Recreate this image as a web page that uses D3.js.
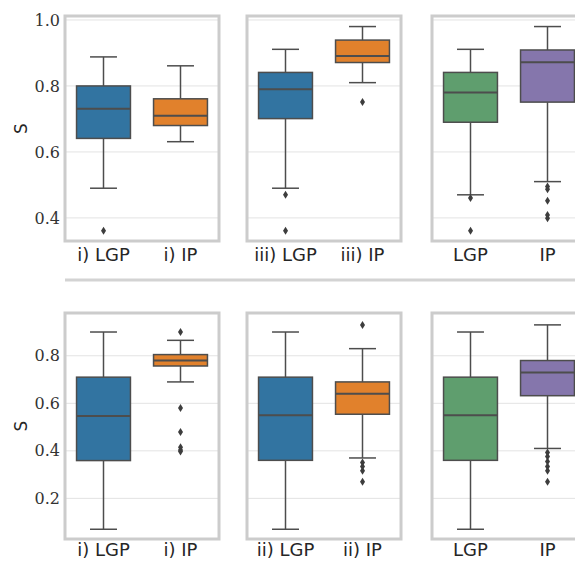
<!DOCTYPE html>
<html>
<head>
<meta charset="utf-8">
<script src="https://cdn.jsdelivr.net/npm/d3@7"></script>
<style>
  body { margin: 0; background: #fff; }
  svg { display: block; }
</style>
</head>
<body>
<div id="chart"></div>
<script>
// box stats per box: [lower whisker, q1, median, q3, upper whisker]
const topLabels = ["i) LGP", "i) IP", "iii) LGP", "iii) IP", "LGP", "IP"];
const topBoxes = [
    [0.49, 0.641, 0.731, 0.80, 0.888],
    [0.631, 0.68, 0.71, 0.761, 0.861],
    [0.49, 0.701, 0.79, 0.841, 0.911],
    [0.81, 0.871, 0.891, 0.939, 0.98],
    [0.47, 0.69, 0.78, 0.841, 0.911],
    [0.51, 0.751, 0.872, 0.909, 0.98]
];
const topOutliers = [
    [0.361],
    [],
    [0.47, 0.361],
    [0.751],
    [0.46, 0.361],
    [0.495, 0.487, 0.452, 0.409, 0.399]
];
const topTicks = [0.4, 0.6, 0.8, 1.0];

const bottomLabels = ["i) LGP", "i) IP", "ii) LGP", "ii) IP", "LGP", "IP"];
const bottomBoxes = [
    [0.07, 0.359, 0.547, 0.71, 0.90],
    [0.69, 0.757, 0.78, 0.805, 0.865],
    [0.07, 0.36, 0.55, 0.71, 0.90],
    [0.37, 0.554, 0.64, 0.69, 0.83],
    [0.07, 0.36, 0.55, 0.71, 0.90],
    [0.41, 0.632, 0.73, 0.78, 0.93]
];
const bottomOutliers = [
    [],
    [0.90, 0.58, 0.479, 0.415, 0.404, 0.397],
    [],
    [0.93, 0.351, 0.334, 0.316, 0.27],
    [],
    [0.393, 0.376, 0.355, 0.334, 0.316, 0.27]
];
const bottomTicks = [0.2, 0.4, 0.6, 0.8];

const boxColors = ["#3274a1", "#e1812c", "#3274a1", "#e1812c", "#5f9e6e", "#8576ac"];

const width = 575;
const height = 561;
const colLefts = [65, 247, 432];
const panelWidth = 154;
const edgeColor = "#4d4d4d";

const rows = [
    { top: 16, bottom: 241, domain: [0.33, 1.012], ticks: topTicks,
      labels: topLabels, boxes: topBoxes, outliers: topOutliers },
    { top: 313, bottom: 539, domain: [0.029, 0.98], ticks: bottomTicks,
      labels: bottomLabels, boxes: bottomBoxes, outliers: bottomOutliers }
];

const svg = d3.select("#chart")
    .append("svg")
    .attr("width", width)
    .attr("height", height)
    .attr("viewBox", `0 0 ${width} ${height}`);

svg.append("rect")
    .attr("width", width)
    .attr("height", height)
    .attr("fill", "#fff");

// separator between the two rows
svg.append("line")
    .attr("x1", 65).attr("x2", width)
    .attr("y1", 280).attr("y2", 280)
    .attr("stroke", "#d3d3d3")
    .attr("stroke-width", 3);

rows.forEach(row => {
    const y = d3.scaleLinear()
        .domain(row.domain)
        .range([row.bottom, row.top]);

    // y tick labels on the first column only
    const yAxis = svg.append("g")
        .attr("transform", `translate(${colLefts[0]},0)`)
        .call(d3.axisLeft(y).tickValues(row.ticks).tickFormat(d3.format(".1f")).tickSize(0).tickPadding(5));
    yAxis.select(".domain").remove();
    yAxis.selectAll("text")
        .attr("font-family", "'DejaVu Serif', serif")
        .attr("font-size", 16)
        .attr("fill", "#333");

    svg.append("text")
        .attr("transform", `translate(27,${(row.top + row.bottom) / 2}) rotate(-90)`)
        .attr("text-anchor", "middle")
        .attr("font-family", "'DejaVu Sans', sans-serif")
        .attr("font-size", 17)
        .attr("fill", "#262626")
        .text("S");

    colLefts.forEach((left, c) => {
        const idx = [c * 2, c * 2 + 1];
        const x = d3.scaleBand()
            .domain(idx.map(i => row.labels[i]))
            .range([left, left + panelWidth]);
        const boxW = x.bandwidth() * 0.7;

        const panel = svg.append("g");

        panel.selectAll("line.grid")
            .data(row.ticks)
            .join("line")
            .attr("class", "grid")
            .attr("x1", left).attr("x2", left + panelWidth)
            .attr("y1", d => y(d)).attr("y2", d => y(d))
            .attr("stroke", "#e3e3e3")
            .attr("stroke-width", 1);

        idx.forEach(i => {
            const [lo, q1, med, q3, hi] = row.boxes[i];
            const cx = x(row.labels[i]) + x.bandwidth() / 2;
            const g = panel.append("g");

            g.append("line")
                .attr("x1", cx).attr("x2", cx)
                .attr("y1", y(hi)).attr("y2", y(q3))
                .attr("stroke", edgeColor).attr("stroke-width", 1.5);
            g.append("line")
                .attr("x1", cx).attr("x2", cx)
                .attr("y1", y(q1)).attr("y2", y(lo))
                .attr("stroke", edgeColor).attr("stroke-width", 1.5);
            [lo, hi].forEach(v => {
                g.append("line")
                    .attr("x1", cx - boxW / 4).attr("x2", cx + boxW / 4)
                    .attr("y1", y(v)).attr("y2", y(v))
                    .attr("stroke", edgeColor).attr("stroke-width", 1.5);
            });
            g.append("rect")
                .attr("x", cx - boxW / 2)
                .attr("y", y(q3))
                .attr("width", boxW)
                .attr("height", y(q1) - y(q3))
                .attr("fill", boxColors[i])
                .attr("stroke", edgeColor)
                .attr("stroke-width", 1.5);
            g.append("line")
                .attr("x1", cx - boxW / 2).attr("x2", cx + boxW / 2)
                .attr("y1", y(med)).attr("y2", y(med))
                .attr("stroke", edgeColor).attr("stroke-width", 2);

            g.selectAll("path.flier")
                .data(row.outliers[i])
                .join("path")
                .attr("class", "flier")
                .attr("d", d => `M${cx},${y(d) - 4}L${cx + 2.5},${y(d)}L${cx},${y(d) + 4}L${cx - 2.5},${y(d)}Z`)
                .attr("fill", "#3d3d3d");

            // keep the bottom labels inside the picture
            svg.append("text")
                .attr("x", cx)
                .attr("y", Math.min(row.bottom + 20, height - 5))
                .attr("text-anchor", "middle")
                .attr("font-family", "'DejaVu Sans', sans-serif")
                .attr("font-size", 18)
                .attr("fill", "#262626")
                .text(row.labels[i]);
        });

        panel.append("rect")
            .attr("x", left)
            .attr("y", row.top)
            .attr("width", panelWidth)
            .attr("height", row.bottom - row.top)
            .attr("fill", "none")
            .attr("stroke", "#cccccc")
            .attr("stroke-width", 3);
    });
});
</script>
</body>
</html>
